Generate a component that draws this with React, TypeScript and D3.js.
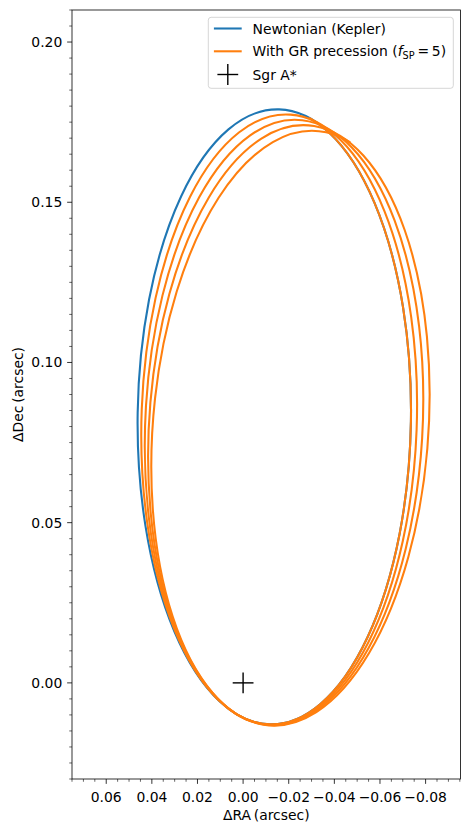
import React from "react";
import * as d3 from "d3";

const W = 469;
const H = 835;
const M = { left: 72, right: 460.5, top: 10, bottom: 779 };

const xDomain = [0.075, -0.0953];
const yDomain = [-0.03, 0.21];

const xTickValues = [0.06, 0.04, 0.02, 0.0, -0.02, -0.04, -0.06, -0.08];
const xTickLabels = ["0.06", "0.04", "0.02", "0.00", "\u22120.02", "\u22120.04", "\u22120.06", "\u22120.08"];
const yTickValues = [0.0, 0.05, 0.1, 0.15, 0.2];
const yTickLabels = ["0.00", "0.05", "0.10", "0.15", "0.20"];

// Newtonian (Kepler) sky ellipse: centre (RA, Dec), semi-axes, position angle (deg)
const keplerCenter = [-0.013678, 0.083021];
const keplerAxes = [0.095988, 0.059908];
const keplerAngle = -1.255;

// Successive loops of the precessing orbit (loop 0 = start, loop 4 = end)
const loopCenterRA = [-0.013678, -0.015813, -0.017943, -0.020065, -0.022181];
const loopCenterDec = [0.083021, 0.082166, 0.081281, 0.080366, 0.079423];
const loopSemiMajor = [0.095988, 0.095316, 0.094675, 0.09407, 0.093503];
const loopSemiMinor = [0.059908, 0.06033, 0.060738, 0.061129, 0.0615];
const loopAngle = [-1.255, -3.016, -4.85, -6.762, -8.753];
const orbitStart = [-0.029044, 0.176292];
const orbitEnd = [-0.047098, 0.168652];

const sgrA = [0, 0];

const BLUE = "#1f77b4";
const ORANGE = "#ff7f0e";
const FONT = "DejaVu Sans, Verdana, sans-serif";
const FS = 13.9;

export default function App() {
  const x = d3.scaleLinear().domain(xDomain).range([M.left, M.right]);
  const y = d3.scaleLinear().domain(yDomain).range([M.bottom, M.top]);
  const kx = x(1) - x(0);
  const ky = y(1) - y(0);

  const ellipseMatrix = (cra: number, cdec: number, a: number, b: number, ang: number) => {
    const th = (ang * Math.PI) / 180;
    const A = kx * a * Math.sin(th);
    const C = kx * b * Math.cos(th);
    const B = ky * a * Math.cos(th);
    const D = -ky * b * Math.sin(th);
    return `matrix(${A} ${B} ${C} ${D} ${x(cra)} ${y(cdec)})`;
  };

  const halfPlane = (p: number[], side: number) => {
    const x0 = x(sgrA[0]);
    const y0 = y(sgrA[1]);
    const dx = x(p[0]) - x0;
    const dy = y(p[1]) - y0;
    const up = [x0 + 4 * dx, y0 + 4 * dy];
    const dn = [x0 - 4 * dx, y0 - 4 * dy];
    const off = side * 3000;
    return [up, dn, [dn[0] + off, dn[1]], [up[0] + off, up[1]]].map((q) => q.join(",")).join(" ");
  };

  const minorX = d3
    .range(-0.095, 0.0751, 0.005)
    .map((v) => Math.round(v * 1000) / 1000)
    .filter((v) => v <= xDomain[0] && v >= xDomain[1] && !xTickValues.some((t) => Math.abs(t - v) < 1e-9));
  const minorY = d3
    .range(-0.03, 0.2101, 0.005)
    .map((v) => Math.round(v * 1000) / 1000)
    .filter((v) => !yTickValues.some((t) => Math.abs(t - v) < 1e-9));

  const loop = (i: number) => (
    <ellipse
      cx={0}
      cy={0}
      rx={1}
      ry={1}
      fill="none"
      stroke={ORANGE}
      strokeWidth={2.08}
      vectorEffect="non-scaling-stroke"
      transform={ellipseMatrix(loopCenterRA[i], loopCenterDec[i], loopSemiMajor[i], loopSemiMinor[i], loopAngle[i])}
    />
  );

  const sx = x(sgrA[0]);
  const sy = y(sgrA[1]);
  const cross = 10.4;

  const legX = 208.3;
  const legY = 17.3;
  const rows = [28.5, 51.3, 74.5];

  return (
    <svg
      width={W}
      height={H}
      style={{ position: "absolute", left: 0, top: 0, background: "#fff" }}
      fontFamily={FONT}
    >
      <defs>
        <clipPath id="startHalf" clipPathUnits="userSpaceOnUse">
          <polygon points={halfPlane(orbitStart, 1)} />
        </clipPath>
        <clipPath id="endHalf" clipPathUnits="userSpaceOnUse">
          <polygon points={halfPlane(orbitEnd, -1)} />
        </clipPath>
      </defs>
      <rect x={0} y={0} width={W} height={H} fill="#fff" />

      {/* Newtonian orbit */}
      <ellipse
        cx={0}
        cy={0}
        rx={1}
        ry={1}
        fill="none"
        stroke={BLUE}
        strokeWidth={2.08}
        vectorEffect="non-scaling-stroke"
        transform={ellipseMatrix(keplerCenter[0], keplerCenter[1], keplerAxes[0], keplerAxes[1], keplerAngle)}
      />

      {/* GR precessing orbit */}
      <g clipPath="url(#startHalf)">{loop(0)}</g>
      {loop(1)}
      {loop(2)}
      {loop(3)}
      <g clipPath="url(#endHalf)">{loop(4)}</g>

      {/* Sgr A* */}
      <g stroke="#000" strokeWidth={1.4}>
        <line x1={sx - cross} x2={sx + cross} y1={sy} y2={sy} />
        <line x1={sx} x2={sx} y1={sy - cross} y2={sy + cross} />
      </g>

      {/* axes frame */}
      <rect
        x={M.left}
        y={M.top}
        width={M.right - M.left}
        height={M.bottom - M.top}
        fill="none"
        stroke="#000"
        strokeWidth={0.8}
      />

      {/* x ticks */}
      <g stroke="#000">
        {xTickValues.map((v, i) => (
          <line key={"xt" + i} x1={x(v)} x2={x(v)} y1={M.bottom} y2={M.bottom + 4.86} strokeWidth={0.8} />
        ))}
        {minorX.map((v, i) => (
          <line key={"xm" + i} x1={x(v)} x2={x(v)} y1={M.bottom} y2={M.bottom + 2.78} strokeWidth={0.6} />
        ))}
        {yTickValues.map((v, i) => (
          <line key={"yt" + i} x1={M.left - 4.86} x2={M.left} y1={y(v)} y2={y(v)} strokeWidth={0.8} />
        ))}
        {minorY.map((v, i) => (
          <line key={"ym" + i} x1={M.left - 2.78} x2={M.left} y1={y(v)} y2={y(v)} strokeWidth={0.6} />
        ))}
      </g>
      <g fontSize={FS} fill="#000">
        {xTickValues.map((v, i) => (
          <text key={"xl" + i} x={x(v)} y={801.5} textAnchor="middle">
            {xTickLabels[i]}
          </text>
        ))}
        {yTickValues.map((v, i) => (
          <text key={"yl" + i} x={M.left - 9.7} y={y(v) + 5} textAnchor="end">
            {yTickLabels[i]}
          </text>
        ))}
        <text x={(M.left + M.right) / 2} y={820} textAnchor="middle">
          {"\u0394RA\u2009(arcsec)"}
        </text>
        <text transform={`translate(23,${(M.top + M.bottom) / 2}) rotate(-90)`} textAnchor="middle">
          {"\u0394Dec\u2009(arcsec)"}
        </text>
      </g>

      {/* legend */}
      <rect
        x={legX}
        y={legY}
        width={245}
        height={71}
        rx={2.8}
        fill="#fff"
        fillOpacity={0.8}
        stroke="#cccccc"
        strokeOpacity={0.8}
        strokeWidth={1}
      />
      <line x1={213.9} x2={241.7} y1={rows[0]} y2={rows[0]} stroke={BLUE} strokeWidth={2.08} />
      <line x1={213.9} x2={241.7} y1={rows[1]} y2={rows[1]} stroke={ORANGE} strokeWidth={2.08} />
      <g stroke="#000" strokeWidth={1.4}>
        <line x1={227.8 - cross} x2={227.8 + cross} y1={rows[2]} y2={rows[2]} />
        <line x1={227.8} x2={227.8} y1={rows[2] - cross} y2={rows[2] + cross} />
      </g>
      <g fontSize={FS} fill="#000">
        <text x={252.5} y={rows[0] + 5}>Newtonian (Kepler)</text>
        <text x={252.5} y={rows[1] + 5}>
          With GR precession (
          <tspan fontStyle="italic">f</tspan>
          <tspan fontSize={9.7} dy={2.6}>SP</tspan>
          <tspan dy={-2.6}>{"\u2009=\u20095)"}</tspan>
        </text>
        <text x={252.5} y={rows[2] + 5}>Sgr A*</text>
      </g>
    </svg>
  );
}
